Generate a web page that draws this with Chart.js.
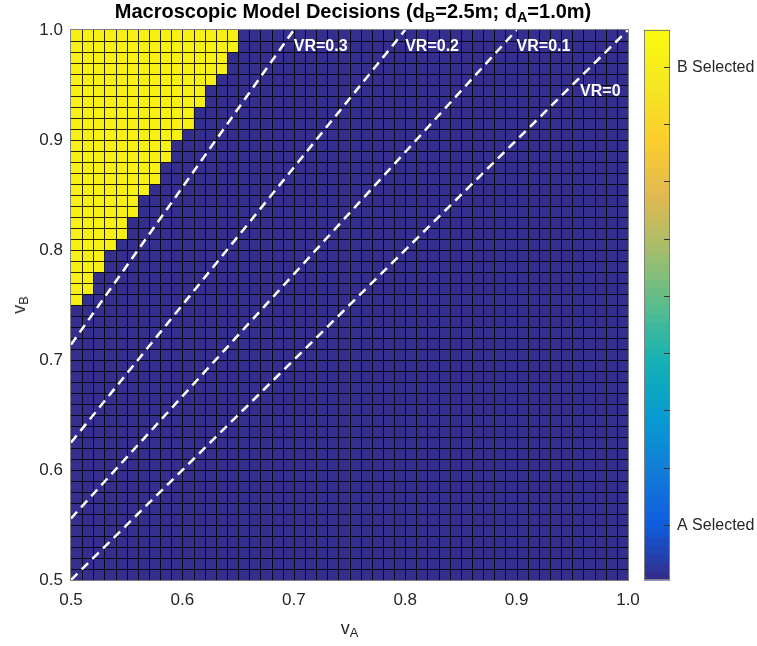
<!DOCTYPE html>
<html>
<head>
<meta charset="utf-8">
<script src="https://cdn.jsdelivr.net/npm/chart.js@4.4.1/dist/chart.umd.min.js"></script>
<style>
  body { margin: 0; background: #fff; }
  #wrap { position: relative; width: 757px; height: 646px; font-family: "Liberation Sans", Arial, sans-serif; color: #262626; }
  #c { position: absolute; left: 0; top: 0; }
  .title { position: absolute; left: 0; width: 706px; top: 0px; text-align: center; font-weight: bold; font-size: 20px; line-height: 22px; color: #000; white-space: nowrap; }
  .title sub, .lbl sub { font-size: 0.72em; position: relative; top: 0.25em; vertical-align: baseline; }
  .lbl { position: absolute; font-size: 18px; line-height: 20px; white-space: nowrap; }
  #xlab { left: 0; width: 699px; text-align: center; top: 618px; }
  #ylab { left: 20px; top: 305px; transform: translate(-50%, -50%) rotate(-90deg); }
</style>
</head>
<body>
<div id="wrap">
  <canvas id="c" width="757" height="646"></canvas>
  <div class="title">Macroscopic Model Decisions (d<sub>B</sub>=2.5m; d<sub>A</sub>=1.0m)</div>
  <div class="lbl" id="xlab">v<sub>A</sub></div>
  <div class="lbl" id="ylab">v<sub>B</sub></div>
</div>
<script>
// grid of speeds: 50 x 50 cells, 0.01 wide, from 0.5 to 1.0
const vMin = 0.5;
const vMax = 1.0;
const cellSize = 0.01;

// number of "B Selected" cells (counted from vA = 0.5) in each vB row,
// listed from the top row (vB 0.99-1.00) downwards; rows not listed are all "A Selected"
const bSelectedCount = [15, 15, 14, 14, 13, 12, 12, 11, 11, 10, 9, 9, 8, 8, 7, 6, 6, 5, 5, 4, 3, 3, 2, 2, 1];

// dashed iso-VR lines: vB where they enter at vA = 0.5, vA where they leave at vB = 1.0
const vrNames = ["VR=0.3", "VR=0.2", "VR=0.1", "VR=0"];
const vrStartB = [0.714, 0.625, 0.556, 0.5];
const vrEndA = [0.7, 0.8, 0.9, 1.0];
const vrLabelA = [0.7, 0.8, 0.9, 0.957];
const vrLabelB = [0.985, 0.985, 0.985, 0.944];

// colorbar
const cbLimits = [-0.12, 1.08];
const cbTicks = [0, 0.125, 0.25, 0.375, 0.5, 0.625, 0.75, 0.875, 1];
const cbLabels = { 0: "A Selected", 1: "B Selected" };

const colorA = "rgb(52,47,143)";
const colorB = "rgb(247,240,20)";

const nCells = Math.round((vMax - vMin) / cellSize);
const cellsA = [];
const cellsB = [];
for (let j = 0; j < nCells; j++) {
  const lo = +(vMin + j * cellSize).toFixed(3);
  const hi = +(lo + cellSize).toFixed(3);
  const count = bSelectedCount[nCells - 1 - j] || 0;
  for (let i = 0; i < nCells; i++) {
    const x = +(vMin + (i + 0.5) * cellSize).toFixed(4);
    (i < count ? cellsB : cellsA).push({ x: x, y: [lo, hi] });
  }
}

const vrDatasets = vrNames.map((name, k) => ({
  type: "line",
  label: name,
  data: [{ x: vMin, y: vrStartB[k] }, { x: vrEndA[k], y: vMax }],
  borderColor: "#fff",
  borderWidth: 2.5,
  borderDash: [9, 6],
  pointRadius: 0,
  order: 0,
}));

// parula-like colormap anchors
const parula = [
  [53, 42, 135], [15, 92, 221], [18, 125, 216], [7, 156, 207], [21, 177, 180],
  [89, 189, 140], [165, 190, 107], [225, 185, 82], [252, 206, 46], [245, 231, 34], [249, 251, 14],
];
function parulaColor(t) {
  const p = Math.max(0, Math.min(1, t)) * (parula.length - 1);
  const a = Math.floor(p), b = Math.min(a + 1, parula.length - 1), f = p - a;
  const c = parula[a].map((v, n) => Math.round(v + (parula[b][n] - v) * f));
  return `rgb(${c[0]},${c[1]},${c[2]})`;
}

// cell edges drawn between the cells and the dashed lines
let gridDone = false;
function drawCellEdges(chart) {
  const ctx = chart.ctx;
  const xs = chart.scales.x, ys = chart.scales.y;
  const a = chart.chartArea;
  ctx.save();
  ctx.strokeStyle = "rgba(0,0,0,0.85)";
  ctx.lineWidth = 1;
  ctx.beginPath();
  for (let i = 1; i < nCells; i++) {
    const v = vMin + i * cellSize;
    const px = Math.round(xs.getPixelForValue(v)) + 0.5;
    ctx.moveTo(px, a.top);
    ctx.lineTo(px, a.bottom);
    const py = Math.round(ys.getPixelForValue(v)) + 0.5;
    ctx.moveTo(a.left, py);
    ctx.lineTo(a.right, py);
  }
  ctx.stroke();
  ctx.restore();
}

const extras = {
  id: "extras",
  beforeDatasetsDraw() { gridDone = false; },
  beforeDatasetDraw(chart, args) {
    if (!gridDone && chart.data.datasets[args.index].type === "line") {
      drawCellEdges(chart);
      gridDone = true;
    }
  },
  afterDatasetsDraw(chart) {
    const ctx = chart.ctx;
    const xs = chart.scales.x, ys = chart.scales.y;
    ctx.save();
    ctx.fillStyle = "#fff";
    ctx.font = "bold 16px 'Liberation Sans', Arial, sans-serif";
    ctx.textBaseline = "middle";
    vrNames.forEach((name, k) => {
      ctx.fillText(name, xs.getPixelForValue(vrLabelA[k]), ys.getPixelForValue(vrLabelB[k]));
    });
    // axes box
    const a = chart.chartArea;
    ctx.strokeStyle = "#808080";
    ctx.lineWidth = 1;
    ctx.strokeRect(a.left - 0.5, a.top - 0.5, a.right - a.left + 1, a.bottom - a.top + 1);
    ctx.restore();
  },
  afterDraw(chart) {
    const ctx = chart.ctx;
    const a = chart.chartArea;
    const left = 644, width = 26, top = a.top, bottom = a.bottom;
    const levels = 64;
    const h = (bottom - top) / levels;
    ctx.save();
    for (let n = 0; n < levels; n++) {
      ctx.fillStyle = parulaColor((n + 0.5) / levels);
      ctx.fillRect(left, bottom - (n + 1) * h - 0.5, width, h + 1);
    }
    ctx.strokeStyle = "#808080";
    ctx.lineWidth = 1;
    ctx.strokeRect(left + 0.5, top + 0.5, width - 1, bottom - top - 1);
    const toY = (v) => bottom - (v - cbLimits[0]) / (cbLimits[1] - cbLimits[0]) * (bottom - top);
    ctx.strokeStyle = "#333";
    ctx.font = "16px 'Liberation Sans', Arial, sans-serif";
    ctx.fillStyle = "#262626";
    ctx.textBaseline = "middle";
    cbTicks.forEach((v) => {
      const y = Math.round(toY(v)) + 0.5;
      ctx.beginPath();
      ctx.moveTo(left + width - 6, y);
      ctx.lineTo(left + width, y);
      ctx.stroke();
      if (cbLabels[v]) ctx.fillText(cbLabels[v], left + width + 7, y);
    });
    ctx.restore();
  },
};

const tickLabel = (v) => {
  const t = v * 10;
  return Math.abs(t - Math.round(t)) < 1e-6 ? v.toFixed(1) : "";
};

const cellStyle = {
  borderWidth: 0,
  grouped: false,
  barPercentage: 1,
  categoryPercentage: 1,
  order: 1,
};

new Chart(document.getElementById("c"), {
  type: "bar",
  data: {
    datasets: [
      ...vrDatasets,
      { label: "B Selected", data: cellsB, backgroundColor: colorB, ...cellStyle },
      { label: "A Selected", data: cellsA, backgroundColor: colorA, ...cellStyle },
    ],
  },
  options: {
    responsive: false,
    animation: false,
    layout: { padding: { top: 30, right: 129, left: 0, bottom: 0 } },
    plugins: { legend: { display: false }, tooltip: { enabled: false }, title: { display: false } },
    scales: {
      x: {
        type: "linear",
        offset: false,
        min: vMin,
        max: vMax,
        grid: { display: false, drawTicks: false, offset: false },
        border: { display: false },
        ticks: {
          stepSize: 0.1,
          padding: 10,
          color: "#262626",
          font: { family: "'Liberation Sans', Arial, sans-serif", size: 17 },
          callback: tickLabel,
        },
        afterFit: (s) => { s.height = 66; },
      },
      y: {
        type: "linear",
        min: vMin,
        max: vMax,
        grid: { display: false, drawTicks: false },
        border: { display: false },
        ticks: {
          stepSize: 0.1,
          padding: 8,
          color: "#262626",
          font: { family: "'Liberation Sans', Arial, sans-serif", size: 17 },
          callback: tickLabel,
        },
        afterFit: (s) => { s.width = 71; },
      },
    },
  },
  plugins: [extras],
});
</script>
</body>
</html>
